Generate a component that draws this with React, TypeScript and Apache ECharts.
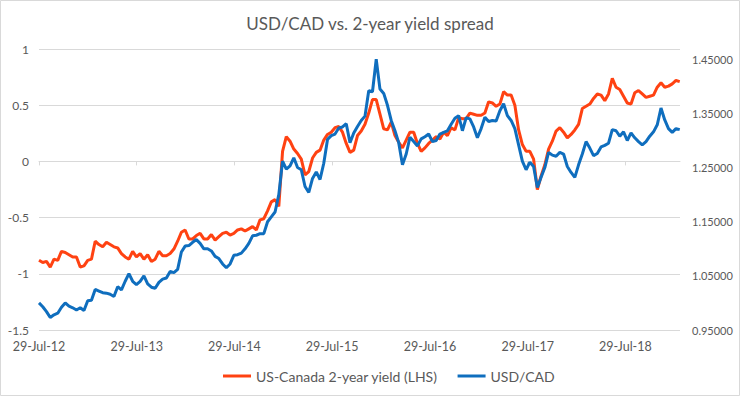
import React, { useEffect, useRef } from "react";
import * as echarts from "echarts";

const titleText = "USD/CAD vs. 2-year yield spread";
const spreadName = "US-Canada 2-year yield (LHS)";
const usdcadName = "USD/CAD";

// first observation and spacing (fortnightly observations)
const startDate = "2012-07-29";
const stepDays = 14;
const axisEndDate = "2019-02-18";
const tickYears = [2012, 2013, 2014, 2015, 2016, 2017, 2018];
const leftTicks = [-1.5, -1, -0.5, 0, 0.5, 1];
const rightTicks = [0.95, 1.05, 1.15, 1.25, 1.35, 1.45];
const monthNames = ["Jan", "Feb", "Mar", "Apr", "May", "Jun", "Jul", "Aug", "Sep", "Oct", "Nov", "Dec"];

const spreadValues = [
  -0.88, -0.90, -0.89, -0.94, -0.87, -0.88, -0.80, -0.81, -0.83, -0.85,
  -0.85, -0.94, -0.93, -0.88, -0.87, -0.71, -0.74, -0.76, -0.72, -0.74,
  -0.76, -0.77, -0.82, -0.85, -0.87, -0.80, -0.85, -0.82, -0.87, -0.83,
  -0.89, -0.87, -0.80, -0.84, -0.84, -0.82, -0.78, -0.71, -0.63, -0.61,
  -0.69, -0.69, -0.66, -0.64, -0.69, -0.69, -0.65, -0.70, -0.67, -0.64,
  -0.63, -0.655, -0.64, -0.61, -0.60, -0.62, -0.60, -0.58, -0.61, -0.52,
  -0.51, -0.44, -0.36, -0.34, -0.40, 0.09, 0.22, 0.18, 0.11, 0.07,
  0.02, -0.12, -0.09, 0.03, 0.08, 0.10, 0.19, 0.24, 0.26, 0.30,
  0.31, 0.26, 0.16, 0.08, 0.10, 0.23, 0.27, 0.33, 0.43, 0.55,
  0.55, 0.42, 0.29, 0.28, 0.35, 0.23, 0.17, 0.12, 0.19, 0.26,
  0.26, 0.16, 0.09, 0.12, 0.16, 0.19, 0.22, 0.20, 0.26, 0.23,
  0.30, 0.28, 0.39, 0.38, 0.38, 0.43, 0.42, 0.41, 0.41, 0.43,
  0.53, 0.52, 0.49, 0.51, 0.62, 0.59, 0.59, 0.50, 0.28, 0.15,
  0.09, 0.09, 0.02, -0.25, -0.13, -0.03, 0.11, 0.18, 0.27, 0.30,
  0.26, 0.21, 0.24, 0.28, 0.33, 0.47, 0.49, 0.51, 0.56, 0.60,
  0.59, 0.54, 0.60, 0.74, 0.66, 0.64, 0.58, 0.52, 0.51, 0.61,
  0.63, 0.60, 0.57, 0.58, 0.59, 0.66, 0.70, 0.66, 0.67, 0.69,
  0.72, 0.71,
];

const usdcadValues = [
  1.000, 0.993, 0.984, 0.973, 0.978, 0.981, 0.992, 1.000, 0.994, 0.991,
  0.987, 0.991, 0.986, 1.004, 1.005, 1.025, 1.022, 1.019, 1.018, 1.016,
  1.012, 1.030, 1.024, 1.040, 1.054, 1.040, 1.034, 1.040, 1.050, 1.035,
  1.029, 1.027, 1.038, 1.044, 1.046, 1.058, 1.056, 1.062, 1.094, 1.105,
  1.106, 1.112, 1.117, 1.110, 1.100, 1.100, 1.096, 1.086, 1.082, 1.072,
  1.065, 1.072, 1.088, 1.089, 1.092, 1.100, 1.110, 1.124, 1.125, 1.128,
  1.128, 1.150, 1.159, 1.168, 1.200, 1.262, 1.247, 1.253, 1.268, 1.250,
  1.246, 1.215, 1.204, 1.230, 1.242, 1.228, 1.258, 1.302, 1.309, 1.312,
  1.323, 1.325, 1.331, 1.296, 1.314, 1.326, 1.337, 1.345, 1.392, 1.390,
  1.450, 1.395, 1.387, 1.365, 1.337, 1.318, 1.296, 1.255, 1.275, 1.306,
  1.298, 1.290, 1.303, 1.307, 1.312, 1.298, 1.300, 1.312, 1.315, 1.318,
  1.330, 1.341, 1.346, 1.318, 1.342, 1.340, 1.325, 1.305, 1.322, 1.343,
  1.335, 1.337, 1.336, 1.355, 1.368, 1.346, 1.337, 1.322, 1.292, 1.262,
  1.246, 1.260, 1.252, 1.213, 1.232, 1.250, 1.278, 1.273, 1.271, 1.278,
  1.275, 1.252, 1.241, 1.232, 1.255, 1.275, 1.298, 1.286, 1.272, 1.276,
  1.288, 1.291, 1.295, 1.320, 1.318, 1.308, 1.316, 1.300, 1.314, 1.305,
  1.298, 1.292, 1.298, 1.308, 1.316, 1.329, 1.360, 1.338, 1.322, 1.315,
  1.322, 1.320,
];

const DAY = 86400000;
const FONT = "Lato, 'Open Sans', sans-serif";
const GREY = "#595959";

function fmtDate(v: number) {
  const d = new Date(v);
  return `${d.getUTCDate()}-${monthNames[d.getUTCMonth()]}-${String(d.getUTCFullYear()).slice(2)}`;
}

export default function App() {
  const ref = useRef<HTMLDivElement>(null);
  useEffect(() => {
    if (!ref.current) return;
    const chart = echarts.init(ref.current, null, { renderer: "svg" });
    const t0 = Date.parse(startDate + "T00:00:00Z");
    const tEnd = Date.parse(axisEndDate + "T00:00:00Z");
    const tickTimes = tickYears.map((y) => Date.UTC(y, 6, 29));
    const spreadData = spreadValues.map((v, i) => [t0 + i * stepDays * DAY, v]);
    const usdcadData = usdcadValues.map((v, i) => [t0 + i * stepDays * DAY, v]);

    chart.setOption({
      animation: false,
      backgroundColor: "#ffffff",
      title: {
        text: titleText,
        left: "center",
        top: 10,
        textStyle: { fontFamily: FONT, fontSize: 17, fontWeight: "normal", color: GREY },
      },
      graphic: [
        {
          type: "rect",
          shape: { x: 0.5, y: 0.5, width: 739, height: 395 },
          style: { fill: "none", stroke: "#d9d9d9", lineWidth: 1 },
          silent: true,
        },
      ],
      legend: {
        left: 218,
        top: 364,
        icon: "rect",
        itemWidth: 28,
        itemHeight: 3,
        itemGap: 20,
        textStyle: { fontFamily: FONT, fontSize: 14, color: GREY },
        data: [spreadName, usdcadName],
      },
      grid: { left: 39, right: 60, top: 49, bottom: 66 },
      xAxis: [
        {
          type: "value",
          min: t0,
          max: tEnd,
          axisLine: { show: true, onZero: true, lineStyle: { color: "#d9d9d9", width: 1 } },
          axisTick: { show: true, customValues: tickTimes, length: 4, lineStyle: { color: "#d9d9d9" } },
          axisLabel: { show: false },
          splitLine: { show: false },
        },
        {
          type: "value",
          position: "bottom",
          min: t0,
          max: tEnd,
          axisLine: { show: false, onZero: false },
          axisTick: { show: false },
          axisLabel: {
            show: true,
            customValues: tickTimes,
            formatter: (v: number) => fmtDate(v),
            fontFamily: FONT,
            fontSize: 12.5,
            color: GREY,
            margin: 10,
          },
          splitLine: { show: false },
        },
      ],
      yAxis: [
        {
          type: "value",
          min: leftTicks[0],
          max: leftTicks[leftTicks.length - 1],
          interval: 0.5,
          axisLine: { show: false },
          axisTick: { show: false },
          axisLabel: { fontFamily: FONT, fontSize: 12, color: GREY, margin: 10 },
          splitLine: { show: true, lineStyle: { color: "#d9d9d9", width: 1 } },
        },
        {
          type: "value",
          position: "right",
          min: rightTicks[0],
          max: 1.469,
          axisLine: { show: false },
          axisTick: { show: false },
          axisLabel: {
            customValues: rightTicks,
            formatter: (v: number) => v.toFixed(5),
            fontFamily: FONT,
            fontSize: 11,
            color: GREY,
            margin: 12,
          },
          splitLine: { show: false },
        },
      ],
      series: [
        {
          name: spreadName,
          type: "line",
          xAxisIndex: 0,
          yAxisIndex: 0,
          data: spreadData,
          showSymbol: false,
          symbol: "none",
          lineStyle: { color: "#FF4212", width: 3 },
          itemStyle: { color: "#FF4212" },
        },
        {
          name: usdcadName,
          type: "line",
          xAxisIndex: 0,
          yAxisIndex: 1,
          data: usdcadData,
          showSymbol: false,
          symbol: "none",
          lineStyle: { color: "#0F6EBE", width: 3 },
          itemStyle: { color: "#0F6EBE" },
        },
      ],
    });
    return () => chart.dispose();
  }, []);

  return (
    <div
      ref={ref}
      style={{ position: "absolute", left: 0, top: 0, width: 740, height: 396, background: "#fff" }}
    />
  );
}
